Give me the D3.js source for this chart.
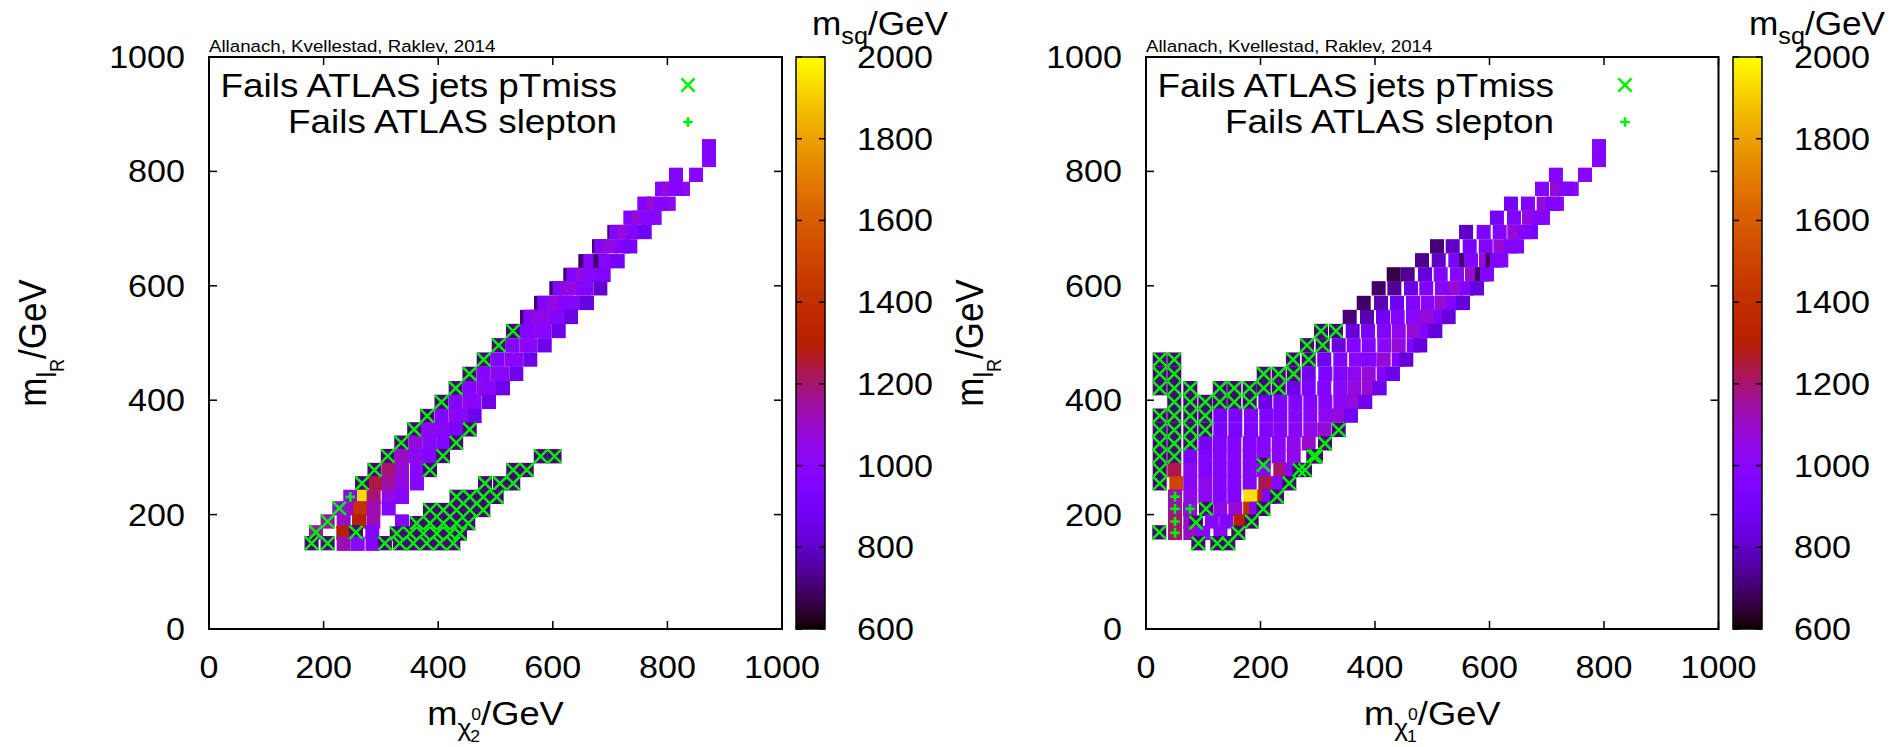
<!DOCTYPE html>
<html>
<head>
<meta charset="utf-8">
<script src="https://cdn.jsdelivr.net/npm/d3@7"></script>
<style>
  html, body { margin: 0; padding: 0; background: #fff; }
  svg { display: block; font-family: "Liberation Sans", Arial, Helvetica, sans-serif; }
</style>
</head>
<body>
<svg id="chart" width="1900" height="747"></svg>
<script>
// ---------------- data ----------------
const axisTicks = [0, 200, 400, 600, 800, 1000];
const cbTicks = [600, 800, 1000, 1200, 1400, 1600, 1800, 2000];
const cbDomain = [600, 2000];
const creditText = "Allanach, Kvellestad, Raklev, 2014";
const legendLabels = ["Fails ATLAS jets pTmiss", "Fails ATLAS slepton"];

// left panel: [m_chi2 (GeV), m_lR (GeV), m_sq (GeV)]
const leftCells = [
  [872.6,844,970],[872.6,820,975],
  [815,794,975],[850,794,985],
  [790.6,769.5,970],[801,769.5,1070],[827.2,769.5,1020],[813.8,769.5,970],
  [759.7,743.5,970],[774.9,743.5,1075],[802.3,743.5,1020],[789.4,743.5,975],
  [735.3,719,965],[749.9,719,1070],[777.8,719,1030],[766.1,719,980],
  [707.3,694,700],[710.8,694,965],[724.8,694,1070],[741.2,694,975],[760.4,694,880],
  [680.6,669,700],[684.6,669,965],[700.3,669,1060],[720.8,669,975],[735.3,669,920],
  [656.7,643,700],[665.4,643,980],[683,643,690],[691.6,643,980],[713.3,643,900],
  [630.5,619,700],[636.1,619,970],[652.7,619,1060],[665.4,619,990],[688.8,619,960],
  [606.1,595.6,700],[612,595.6,965],[624.8,595.6,1060],[633.5,595.6,1060],[654,595.6,975],[658.5,595.6,975],[683,595.6,820],
  [579.4,570,700],[585.2,570,960],[601.6,570,1060],[621.8,570,975],[635.3,570,985],[659.7,570,840],
  [555,545.5,700],[560.8,545.5,960],[572.4,545.5,1050],[582.9,545.5,1040],[607.3,545.5,975],[631.8,545.5,850],
  [530.5,521,710],[555,521,970],[579.4,521,1040],[585.9,521,990],[610.3,521,860],
  [505.6,496,710],[530,496,965],[554.5,496,1040],[561.4,496,990],[585.9,496,860],
  [479.4,471,710],[503.8,471,965],[528.3,471,1040],[536.3,471,990],[560.7,471,860],
  [454.6,446,710],[479.4,446,965],[503.8,446,1040],[511.9,446,990],[536.3,446,860],
  [430.5,421,710],[455,421,965],[479.4,421,1040],[488.7,421,990],[513.1,421,860],
  [405.8,397,710],[430.5,397,965],[455,397,1040],[463.6,397,990],[488.7,397,860],
  [380.8,372.4,710],[405.8,372.4,965],[430.3,372.4,1040],[439.6,372.4,990],[463.6,372.4,860],
  [358.1,349,710],[382.2,349,1030],[406.6,349,990],[431.1,349,930],[455,349,710],
  [335.6,325.7,710],[360,325.7,1070],[384.4,325.7,1000],[408.7,325.7,950],[431.4,325.7,710],
  [312,302.4,710],[336.8,302.4,1100],[361.3,302.4,1030],[384.4,302.4,970],[408.4,302.4,710],
  [288.8,278,710],[313.6,278,1200],[336.8,278,1080],[363,278,990],[385.7,278,710],
  [267,254.7,710],[291.4,254.7,1240],[313.6,254.7,1150],[336.8,254.7,1050],[363,254.7,985],
  [246.6,231,1010],[271,231,1930],[287.4,231,1190],[313.6,231,1060],[336.8,231,980],
  [227.4,211,1060],[250.8,211,1100],[264,211,1400],[287.4,211,1130],[313.6,211,975],
  [207,188,1120],[235,188,1100],[261.8,188,1300],[286.8,188,1130],[336.8,188,960],
  [186.7,169,1130],[234.4,168,1300],[256.5,169,710],[285,170,975],
  [179,150,710],[207,150,720],[235,149,1120],[259.5,149,990],[285.3,149,975],
  [579,302,710],[603,302,710],
  [531,278,710],[554.5,278,710],
  [481.7,254.7,710],[508,254.7,710],[531,254.7,710],
  [432,231,710],[455.5,231,710],[478.7,231,710],[502,231,710],
  [385.7,208,710],[409,208,710],[432,208,710],[455.5,208,710],[478.7,208,710],
  [362.5,185,710],[385.7,185,710],[409,185,710],[432,185,710],[452.5,185,710],
  [327.6,167,710],[350.9,167,710],[374,167,710],[397.4,167,710],[420.6,167,710],[438,167,710],
  [307,150,710],[333,150,710],[356.5,150,710],[380,150,710],[403,150,710],[426.4,150,710]
];
// points failing the ATLAS jets + pTmiss search
const leftJets = [
  [530.5,521],[505.6,496],[479.4,471],[454.6,446],[430.5,421],[405.8,397],[380.8,372.4],
  [358.1,349],[455,349],[335.6,325.7],[431.4,325.7],[312,302.4],[408.4,302.4],
  [288.8,278],[385.7,278],[267,254.7],[227.4,211],[207,188],[186.7,169],[256.5,169],
  [179,150],[207,150],
  [579,302],[603,302],[531,278],[554.5,278],
  [481.7,254.7],[508,254.7],[531,254.7],
  [432,231],[455.5,231],[478.7,231],[502,231],
  [385.7,208],[409,208],[432,208],[455.5,208],[478.7,208],
  [362.5,185],[385.7,185],[409,185],[432,185],[452.5,185],
  [327.6,167],[350.9,167],[374,167],[397.4,167],[420.6,167],[438,167],
  [307,150],[333,150],[356.5,150],[380,150],[403,150],[426.4,150]
];
// points failing the ATLAS slepton search
const leftSlepton = [[246.6,231]];

// right panel: [m_chi1 (GeV), m_lR (GeV), m_sq (GeV)]
const rightCells = [
  [791.3,844,975],[791.3,820,975],
  [716,794,970],[766.8,794,1000],
  [691.7,769.5,965],[717.9,769.5,1070],[743.6,769.5,1010],[733.6,769.5,960],
  [637.5,743.5,890],[667.2,743.5,960],[694.6,743.5,1070],[717.8,743.5,1000],[710.8,743.5,960],
  [613,719,900],[642.8,719,960],[669,719,1060],[693.5,719,1010],[686.5,719,970],
  [559,694,800],[589.8,694,940],[617.8,694,965],[643.3,694,1075],[672.4,694,900],[662.5,694,960],
  [508.3,669,710],[535.7,669,800],[565.4,669,920],[593.4,669,960],[618.9,669,1080],[637.5,669,950],[648,669,950],
  [482.1,644.6,730],[511.3,644.6,800],[540.3,644.6,920],[559.5,644.6,690],[567.7,644.6,975],[593.9,644.6,1070],[605.6,644.6,690],[613.1,644.6,950],[620.6,644.6,950],
  [432.7,620,660],[457.1,620,730],[487.3,620,830],[514.7,620,950],[543.2,620,1000],[569.4,620,1090],[586.9,620,690],[595.6,620,950],
  [406.4,595.6,690],[433.8,595.6,740],[462.9,595.6,850],[489.5,595.6,950],[517,595.6,990],[541.5,595.6,1080],[560.7,595.6,960],[578.2,595.6,830],
  [380.3,570,690],[410.5,570,780],[438.4,570,880],[466.4,570,950],[492,570,985],[517,570,1080],[537.1,570,960],[553.7,570,830],
  [355.8,545.5,710],[386,545.5,770],[414,545.5,880],[439.6,545.5,950],[466.4,545.5,990],[490.8,545.5,1080],[514,545.5,960],[528.7,545.5,830],
  [305.7,521,710],[331.9,521,710],[361,521,830],[387.8,521,920],[415.7,521,965],[441.4,521,1030],[467.6,521,1080],[490.8,521,960],[505.4,521,830],
  [281.2,496,710],[308.6,496,710],[336.6,496,840],[362.8,496,950],[389,496,965],[416.2,496,1010],[441.4,496,1080],[467.6,496,960],[479.1,496,830],
  [23.9,471,710],[49.4,471,710],[256.8,471,710],[284.2,471,710],[311.4,471,870],[339.4,471,950],[366.8,471,1000],[390.7,471,970],[415.2,471,1080],[441.4,471,960],[454.7,471,830],
  [23.9,446,710],[49.4,446,710],[205.6,446,710],[231.8,446,710],[258,446,710],[284.2,446,870],[313.2,446,930],[339.4,446,960],[363.8,446,1030],[389,446,1080],[415.2,446,960],[431.4,446,860],
  [23.9,421,710],[49.4,421,710],[77.4,421,710],[128.9,421,710],[154.2,421,710],[181.1,421,710],[205.6,421,710],[231.8,421,710],[258,421,850],[284.2,421,930],[311.4,421,960],[339.4,421,1000],[363.8,421,1060],[389,421,1080],[408.2,421,860],
  [49.4,397,710],[77.4,397,710],[103.6,397,710],[128.9,397,710],[154.2,397,710],[181.1,397,710],[208.4,397,850],[234.6,397,930],[260.8,397,950],[287,397,960],[313.2,397,970],[339.4,397,1010],[362.8,397,1070],[383,397,870],
  [23.9,373,710],[49.4,373,710],[77.4,373,710],[103.6,373,710],[129.8,373,900],[156,373,930],[183.4,373,950],[210.1,373,955],[234.6,373,960],[260.8,373,980],[287,373,1000],[313.2,373,1030],[336.6,373,1070],[358,373,880],
  [23.9,348,710],[49.4,348,710],[77.4,348,710],[103.6,348,710],[129.8,348,920],[156,348,930],[183.4,348,950],[210.1,348,960],[234.6,348,970],[260.8,348,990],[287,348,1040],[311.4,348,1080],[336.6,348,710],
  [23.9,324.5,710],[49.4,324.5,710],[77.4,324.5,710],[103.6,324.5,900],[128.9,324.5,940],[154.2,324.5,950],[181.1,324.5,960],[205.6,324.5,970],[231.8,324.5,990],[258,324.5,1030],[284.2,324.5,1090],[312.7,324.5,710],
  [23.9,302,710],[49.4,302,710],[77.4,302,930],[103.6,302,950],[128.9,302,960],[154.2,302,960],[181.1,302,970],[205.6,302,990],[231.8,302,1010],[258,302,1040],[292.2,302,710],[297,302,710],
  [205,286.7,710],
  [23.9,278,710],[49.4,278,1230],[77.4,278,1020],[103.6,278,960],[128.9,278,950],[154.2,278,960],[181.1,278,970],[205.6,278,990],[234.6,278,1200],[255,278,1000],[267.8,278,710],[277.7,278,710],
  [23.9,254.7,710],[52.9,254.7,1500],[77.4,254.7,1000],[103.6,254.7,1040],[128.9,254.7,950],[154.2,254.7,960],[181.1,254.7,970],[208.4,254.7,1230],[231.8,254.7,990],[250.3,254.7,710],
  [50.7,231.5,1130],[77.4,231.5,1050],[103.6,231.5,1020],[128.9,231.5,960],[154.2,231.5,960],[182.2,231.5,1940],[206.6,231.5,1350],[214.3,231.5,960],[228.8,231.5,710],
  [50.7,210,1140],[76.9,210,1050],[104.8,210,710],[129.8,210,1040],[156,210,1080],[182,210,1380],[192.7,210,980],[205,210,710],
  [50.7,188,1200],[77.4,188,1100],[87.3,186,710],[115,188,980],[140,188,960],[165,188,1300],[184.6,188,710],
  [23.2,169,710],[50.7,168,1200],[77.4,168,1100],[100,168,980],[130,168,1000],[161.2,168,710],
  [91.4,150,710],[124.5,150,710],[143.8,150,710]
];
const rightJets = [
  [305.7,521],[331.9,521],[281.2,496],[308.6,496],
  [23.9,471],[49.4,471],[256.8,471],[284.2,471],
  [23.9,446],[49.4,446],[205.6,446],[231.8,446],[258,446],
  [23.9,421],[49.4,421],[77.4,421],[128.9,421],[154.2,421],[181.1,421],[205.6,421],[231.8,421],
  [49.4,397],[77.4,397],[103.6,397],[128.9,397],[154.2,397],[181.1,397],
  [23.9,373],[49.4,373],[77.4,373],[103.6,373],
  [23.9,348],[49.4,348],[77.4,348],[103.6,348],[336.6,348],
  [23.9,324.5],[49.4,324.5],[77.4,324.5],[312.7,324.5],
  [23.9,302],[49.4,302],[292.2,302],[297,302],
  [205,286.7],
  [23.9,278],[267.8,278],[277.7,278],
  [23.9,254.7],[250.3,254.7],
  [228.8,231.5],
  [104.8,210],[205,210],
  [87.3,186],[184.6,188],
  [23.2,169],[161.2,168],
  [91.4,150],[124.5,150],[143.8,150]
];
const rightSlepton = [[50.7,231.5],[50.7,210],[76.9,210],[50.7,188],[50.7,168]];

// ---------------- drawing ----------------
const svg = d3.select("#chart");
const SX = 1.1;          // horizontal glyph stretch
const CELL_W = 14, CELL_H = 14.3;   // marker square size, px
const GREEN = "#00f000";
const TOP = 57, BOTTOM = 629;
const TICK_FONT = 31, KEY_FONT = 33.5, TITLE_FONT = 33;

// gnuplot default palette (rgbformulae 7,5,15)
function gnuplotPalette(t) {
  t = Math.max(0, Math.min(1, t));
  const r = Math.sqrt(t), g = t * t * t, b = Math.max(0, Math.sin(2 * Math.PI * t));
  return d3.rgb(r * 255, g * 255, b * 255).formatHex();
}
const color = d3.scaleSequential(gnuplotPalette).domain(cbDomain).clamp(true);

function label(parent, x, y, str, size, anchor) {
  const g = parent.append("g").attr("transform", `translate(${x},${y}) scale(${SX},1)`);
  g.append("text").attr("text-anchor", anchor || "start").attr("font-size", size)
    .attr("fill", "#000").text(str);
  return g;
}

// text made of pieces with sub/superscripts
function richText(parent, x, y, parts, anchor, rotate, stretch) {
  const outer = parent.append("g");
  const g = outer.append("g");
  let cx = 0;
  parts.forEach(p => {
    const t = g.append("text").attr("x", cx + (p.dx || 0)).attr("y", p.dy || 0)
      .attr("font-size", p.size).attr("fill", "#000").text(p.t);
    const w = t.node().getComputedTextLength();
    if (p.adv !== false) cx += w + (p.dx || 0);
  });
  const shift = anchor === "middle" ? -cx / 2 : anchor === "end" ? -cx : 0;
  g.attr("transform", `translate(${shift},0)`);
  outer.attr("transform", `translate(${x},${y}) rotate(${rotate || 0}) scale(${stretch[0]},${stretch[1]})`);
  return outer;
}

// colour bar gradient
const defs = svg.append("defs");
const grad = defs.append("linearGradient").attr("id", "cbgrad")
  .attr("x1", 0).attr("y1", 1).attr("x2", 0).attr("y2", 0);
d3.range(0, 101).forEach(i => {
  const v = cbDomain[0] + (cbDomain[1] - cbDomain[0]) * i / 100;
  grad.append("stop").attr("offset", `${i}%`).attr("stop-color", color(v));
});

const panels = [
  { x0: 209, x1: 782, cb: 796, cells: leftCells, jets: leftJets, sle: leftSlepton, sub: "2", ylabX: 46 },
  { x0: 1146, x1: 1718.5, cb: 1733, cells: rightCells, jets: rightJets, sle: rightSlepton, sub: "1", ylabX: 983 }
];

panels.forEach(P => {
  const x = d3.scaleLinear().domain([0, 1000]).range([P.x0, P.x1]);
  const y = d3.scaleLinear().domain([0, 1000]).range([BOTTOM, TOP]);
  const g = svg.append("g");

  // data squares
  g.append("g").selectAll("rect").data(P.cells).join("rect")
    .attr("x", d => x(d[0]) - CELL_W / 2).attr("y", d => y(d[1]) - CELL_H / 2)
    .attr("width", CELL_W).attr("height", CELL_H)
    .attr("fill", d => color(d[2]));

  // failing points: crosses
  const hx = 6.6;
  g.append("g").selectAll("path").data(P.jets).join("path")
    .attr("d", d => {
      const cx = x(d[0]), cy = y(d[1]);
      return `M${cx - hx},${cy - hx}L${cx + hx},${cy + hx}M${cx - hx},${cy + hx}L${cx + hx},${cy - hx}`;
    })
    .attr("stroke", GREEN).attr("stroke-width", 2.6).attr("fill", "none");
  // failing points: plus signs
  const hp = 4.8;
  g.append("g").selectAll("path").data(P.sle).join("path")
    .attr("d", d => {
      const cx = x(d[0]), cy = y(d[1]);
      return `M${cx - hp},${cy}L${cx + hp},${cy}M${cx},${cy - hp}L${cx},${cy + hp}`;
    })
    .attr("stroke", GREEN).attr("stroke-width", 2.6).attr("fill", "none");

  // axes: inward ticks on all four sides
  const tl = 8;
  const ax = g.append("g").attr("stroke", "#000").attr("stroke-width", 1.5);
  axisTicks.forEach(v => {
    ax.append("line").attr("x1", x(v)).attr("x2", x(v)).attr("y1", BOTTOM).attr("y2", BOTTOM - tl);
    ax.append("line").attr("x1", x(v)).attr("x2", x(v)).attr("y1", TOP).attr("y2", TOP + tl);
    ax.append("line").attr("y1", y(v)).attr("y2", y(v)).attr("x1", P.x0).attr("x2", P.x0 + tl);
    ax.append("line").attr("y1", y(v)).attr("y2", y(v)).attr("x1", P.x1).attr("x2", P.x1 - tl);
  });
  g.append("rect").attr("x", P.x0).attr("y", TOP).attr("width", P.x1 - P.x0).attr("height", BOTTOM - TOP)
    .attr("fill", "none").attr("stroke", "#000").attr("stroke-width", 2);

  // tick labels
  axisTicks.forEach(v => {
    label(g, x(v), 678, String(v), TICK_FONT, "middle");
    label(g, P.x0 - 24, y(v) + 11, String(v), TICK_FONT, "end");
  });

  // axis titles
  richText(g, (P.x0 + P.x1) / 2, 725, [
    { t: "m", size: TITLE_FONT },
    { t: "\u03c7", size: 24, dy: 11 },
    { t: P.sub, size: 16, dy: 17, adv: false, dx: -1 },
    { t: "0", size: 16, dy: -5 },
    { t: "/GeV", size: TITLE_FONT }
  ], "middle", 0, [SX, 1]);
  richText(g, P.ylabX, (TOP + BOTTOM) / 2, [
    { t: "m", size: 35 },
    { t: "l", size: 25, dy: 9 },
    { t: "R", size: 18, dy: 16 },
    { t: "/GeV", size: 35 }
  ], "middle", -90, [1, SX]);

  // credit line
  label(g, P.x0, 52, creditText, 17, "start");

  // legend
  legendLabels.forEach((lab, i) => {
    label(g, P.x0 + 408, [96.7, 133.3][i], lab, KEY_FONT, "end");
  });
  const lx = P.x0 + 479;
  g.append("path").attr("d", `M${lx - hx},${85 - hx}L${lx + hx},${85 + hx}M${lx - hx},${85 + hx}L${lx + hx},${85 - hx}`)
    .attr("stroke", GREEN).attr("stroke-width", 2.6).attr("fill", "none");
  g.append("path").attr("d", `M${lx - hp},122L${lx + hp},122M${lx},${122 - hp}L${lx},${122 + hp}`)
    .attr("stroke", GREEN).attr("stroke-width", 2.6).attr("fill", "none");

  // colour bar
  const cbw = 29;
  const cy = d3.scaleLinear().domain(cbDomain).range([BOTTOM, TOP]);
  g.append("rect").attr("x", P.cb).attr("y", TOP).attr("width", cbw).attr("height", BOTTOM - TOP)
    .attr("fill", "url(#cbgrad)").attr("stroke", "#000").attr("stroke-width", 1.5);
  const cbt = g.append("g").attr("stroke", "#000").attr("stroke-width", 1.5);
  cbTicks.forEach(v => {
    cbt.append("line").attr("x1", P.cb).attr("x2", P.cb + 6).attr("y1", cy(v)).attr("y2", cy(v));
    cbt.append("line").attr("x1", P.cb + cbw - 6).attr("x2", P.cb + cbw).attr("y1", cy(v)).attr("y2", cy(v));
    label(g, P.cb + cbw + 32, cy(v) + 11, String(v), TICK_FONT, "start");
  });
  richText(g, P.cb + 16, 35, [
    { t: "m", size: KEY_FONT },
    { t: "sq", size: 24, dy: 9 },
    { t: "/GeV", size: KEY_FONT }
  ], "start", 0, [1.05, 1]);
});
</script>
</body>
</html>
